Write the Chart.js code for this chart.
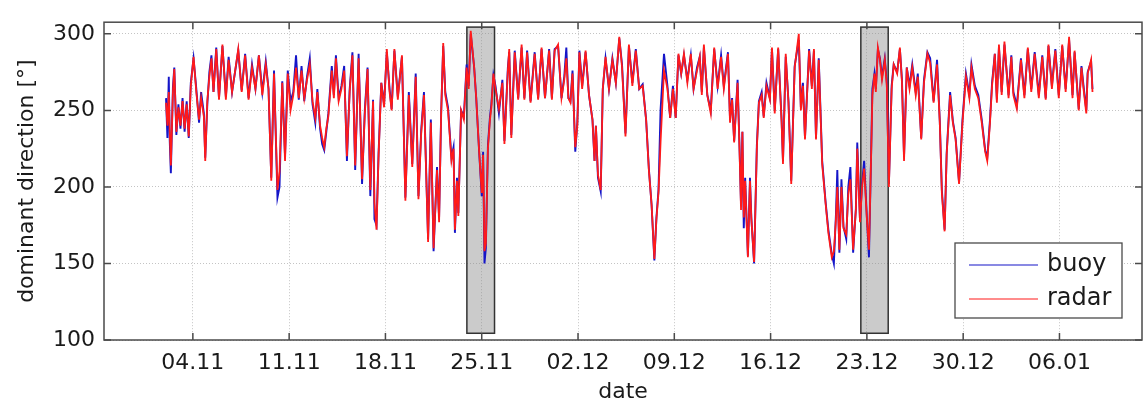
<!DOCTYPE html>
<html>
<head>
<meta charset="utf-8">
<script src="https://cdn.jsdelivr.net/npm/chart.js@4.4.1/dist/chart.umd.min.js"></script>
<style>
  html, body { margin: 0; padding: 0; background: #fff; }
  #wrap { width: 1143px; height: 403px; position: relative; }
</style>
</head>
<body>
<div id="wrap"><canvas id="dirChart"></canvas></div>
<script>
// time axis: days since 01.11 (so 04.11 = 3)
const days = [
  1.05,1.15,1.25,1.32,1.4,1.55,1.65,1.8,1.95,2.1,2.25,2.4,2.55,2.7,2.85,3.05,3.25,3.45,3.6,3.8,3.9,
  4.05,4.2,4.35,4.5,4.7,4.9,5.15,5.4,5.6,5.85,6.3,6.55,6.8,7.05,7.3,7.55,7.8,8.05,8.3,8.5,8.7,8.9,
  9.15,9.3,9.5,9.7,9.9,10.1,10.3,10.5,10.7,10.9,11.1,11.3,11.5,11.7,11.9,12.05,12.25,12.4,12.55,12.7,
  12.85,13.1,13.25,13.4,13.6,13.8,14.0,14.2,14.4,14.6,14.8,15.05,15.3,15.5,15.7,15.9,16.1,16.2,16.35,
  16.5,16.7,16.9,17.1,17.3,17.45,17.65,17.9,18.2,18.45,18.7,18.95,19.2,19.4,19.6,19.8,20.1,20.3,20.5,
  20.75,20.9,21.05,21.2,21.35,21.55,21.8,21.95,22.05,22.2,22.3,22.5,22.7,22.9,23.05,23.2,23.45,23.6,
  23.8,24.0,24.1,24.2,24.3,24.45,24.6,24.7,24.85,25.0,25.25,25.5,25.65,25.9,26.0,26.15,26.4,26.65,
  26.9,27.1,27.3,27.55,27.85,28.1,28.35,28.6,28.9,29.1,29.3,29.55,29.8,30.0,30.15,30.3,30.45,30.6,
  30.8,30.95,31.1,31.3,31.55,31.8,32.05,32.2,32.3,32.45,32.65,32.8,33.0,33.25,33.5,33.75,34.0,34.2,
  34.45,34.7,34.95,35.2,35.45,35.7,35.95,36.15,36.35,36.55,36.7,36.85,37.0,37.25,37.5,37.7,37.9,38.1,
  38.3,38.5,38.7,38.95,39.2,39.4,39.65,39.85,40.0,40.15,40.4,40.65,40.9,41.15,41.4,41.6,41.9,42.05,
  42.2,42.35,42.6,42.75,42.85,42.95,43.05,43.15,43.35,43.5,43.6,43.8,44.0,44.15,44.35,44.5,44.7,44.95,
  45.1,45.3,45.55,45.8,45.9,46.1,46.3,46.5,46.75,47.05,47.2,47.35,47.5,47.8,48.0,48.15,48.3,48.5,
  48.75,49.0,49.2,49.45,49.6,49.75,49.85,50.0,50.15,50.3,50.5,50.65,50.8,51.0,51.2,51.3,51.5,51.65,
  51.8,52.0,52.15,52.3,52.4,52.55,52.65,52.8,52.95,53.1,53.3,53.45,53.6,53.8,53.95,54.2,54.4,54.55,
  54.7,54.9,55.1,55.3,55.55,55.7,55.95,56.15,56.4,56.6,56.85,57.1,57.3,57.45,57.65,57.8,58.05,58.25,
  58.45,58.7,58.95,59.2,59.45,59.6,59.85,60.1,60.35,60.6,60.75,60.95,61.1,61.3,61.45,61.6,61.8,62.0,
  62.3,62.5,62.65,62.9,63.2,63.45,63.7,63.95,64.2,64.5,64.75,65.0,65.2,65.45,65.7,65.95,66.2,66.45,
  66.7,66.95,67.1,67.4,67.6,67.75,67.95,68.05,68.3,68.4
];

const buoyDir = [
  258,232,272,230,209,265,278,234,254,238,258,236,256,232,268,284,264,242,262,248,219,
  254,275,286,262,291,258,292,259,285,262,289,263,287,258,280,264,286,262,282,264,206,276,
  193,200,269,220,276,256,262,286,257,279,256,272,284,254,242,264,238,228,224,236,
  248,279,260,286,258,266,279,217,264,288,211,287,202,250,278,194,257,179,175,
  222,268,254,288,264,251,289,259,285,193,262,215,274,194,237,262,166,244,158,
  213,180,248,292,262,252,219,226,170,206,183,250,246,280,266,300,278,258,
  225,194,223,150,160,227,246,254,273,266,248,270,230,278,288,234,289,258,
  291,258,289,256,288,258,290,258,290,258,290,292,258,272,291,258,256,276,
  223,242,289,266,288,260,244,217,240,206,197,264,284,264,284,268,297,280,
  235,292,268,290,264,267,244,212,188,152,180,198,250,287,266,245,266,245,
  286,274,286,270,286,264,278,285,262,291,260,250,290,266,286,266,288,244,
  258,230,270,223,188,236,173,206,155,206,180,150,227,256,262,246,268,258,
  290,250,290,244,217,285,256,204,279,296,252,268,232,290,266,289,232,284,
  217,190,172,156,150,182,211,157,205,174,166,200,213,157,186,229,178,202,
  217,180,154,218,264,274,264,290,284,272,284,268,202,266,280,275,290,270,
  220,278,266,280,262,274,232,270,288,284,256,283,243,198,172,222,262,243,
  232,203,244,274,260,280,266,260,244,224,219,244,268,287,257,291,262,293,
  260,286,262,253,284,260,290,264,288,260,286,258,292,266,290,260,292,264,
  296,260,288,251,279,266,250,275,282,264
];

const radarDir = [
  255,240,262,236,214,262,277,236,252,240,256,238,254,233,266,285,262,244,258,246,217,
  256,272,284,262,290,257,293,257,283,262,290,262,286,257,278,264,286,260,280,264,204,274,
  198,210,268,217,274,250,260,278,258,276,258,270,280,256,245,262,240,232,226,238,
  246,276,258,284,256,264,276,220,262,286,214,284,205,248,277,198,256,190,172,
  220,268,252,290,262,250,290,257,286,191,260,213,272,192,235,260,164,242,160,
  211,177,248,294,260,250,217,225,172,204,181,250,244,278,264,302,278,258,
  225,196,221,158,163,225,244,252,274,264,251,268,228,276,290,232,288,257,
  293,257,288,255,287,257,291,258,289,257,289,293,258,270,284,258,255,274,
  226,240,288,264,289,260,244,217,240,208,198,264,285,264,283,268,298,278,
  233,293,266,289,264,266,244,211,188,153,179,196,229,276,264,245,264,245,
  287,274,287,268,287,264,276,285,260,293,260,248,291,264,285,264,287,242,
  257,229,268,221,185,236,180,204,154,204,179,151,225,255,260,245,266,257,
  291,248,291,242,215,287,255,202,278,300,250,266,231,289,264,290,231,283,
  215,189,170,154,158,179,200,159,200,173,169,195,205,159,185,225,177,200,
  212,179,159,217,260,274,262,291,283,270,283,266,200,264,280,274,291,268,
  217,278,264,278,260,272,231,268,287,281,255,280,242,196,171,221,260,242,
  231,202,242,272,258,278,264,258,242,223,217,242,266,287,255,293,260,295,
  258,285,260,251,283,258,291,262,287,258,285,257,293,264,289,258,293,262,
  298,258,289,250,278,264,248,274,283,262
];

const xTickDays = [3, 10, 17, 24, 31, 38, 45, 52, 59, 66];
const xTickLabels = ['04.11', '11.11', '18.11', '25.11', '02.12', '09.12', '16.12', '23.12', '30.12', '06.01'];
const yTicks = [100, 150, 200, 250, 300];

// grey marked periods (days)
const markedSpans = [[22.92, 24.93], [51.56, 53.55]];
const markedLow = 104.4;
const markedHigh = 304.4;

const FONT = 'DejaVu Sans';
const FRAME = '#4a4a4a';

function toPoints(vals){
  return days.map((d, i) => ({x: d, y: vals[i]}));
}

// grey boxes behind the lines
const spanPlugin = {
  id: 'spans',
  beforeDatasetsDraw(chart){
    const ctx = chart.ctx;
    const xs = chart.scales.x, ys = chart.scales.y;
    ctx.save();
    for (const s of markedSpans){
      const x1 = xs.getPixelForValue(s[0]);
      const x2 = xs.getPixelForValue(s[1]);
      const y1 = ys.getPixelForValue(markedHigh);
      const y2 = ys.getPixelForValue(markedLow);
      ctx.fillStyle = 'rgba(140,140,140,0.45)';
      ctx.fillRect(x1, y1, x2 - x1, y2 - y1);
      ctx.strokeStyle = '#333';
      ctx.lineWidth = 1.5;
      ctx.strokeRect(x1, y1, x2 - x1, y2 - y1);
    }
    ctx.restore();
  }
};

// matlab style box, inward ticks and legend
const framePlugin = {
  id: 'frame',
  afterDraw(chart){
    const ctx = chart.ctx;
    const a = chart.chartArea;
    const xs = chart.scales.x, ys = chart.scales.y;
    ctx.save();
    ctx.strokeStyle = FRAME;
    ctx.lineWidth = 1.5;
    ctx.strokeRect(a.left, a.top, a.right - a.left, a.bottom - a.top);
    ctx.beginPath();
    const tl = 7;
    for (const d of xTickDays){
      const x = xs.getPixelForValue(d);
      ctx.moveTo(x, a.bottom); ctx.lineTo(x, a.bottom - tl);
      ctx.moveTo(x, a.top); ctx.lineTo(x, a.top + tl);
    }
    for (const v of yTicks){
      const y = ys.getPixelForValue(v);
      ctx.moveTo(a.left, y); ctx.lineTo(a.left + tl, y);
      ctx.moveTo(a.right, y); ctx.lineTo(a.right - tl, y);
    }
    ctx.stroke();

    // legend box
    const lx = 955, ly = 243, lw = 167, lh = 75;
    ctx.fillStyle = '#fff';
    ctx.fillRect(lx, ly, lw, lh);
    ctx.strokeStyle = FRAME;
    ctx.lineWidth = 1.3;
    ctx.strokeRect(lx, ly, lw, lh);
    const rows = [265, 299];
    chart.data.datasets.forEach((ds, i) => {
      ctx.strokeStyle = ds.borderColor;
      ctx.lineWidth = 1.2;
      ctx.beginPath();
      ctx.moveTo(lx + 14, rows[i]);
      ctx.lineTo(lx + 83, rows[i]);
      ctx.stroke();
      ctx.fillStyle = '#1a1a1a';
      ctx.font = '24px "' + FONT + '"';
      ctx.textBaseline = 'middle';
      ctx.textAlign = 'left';
      ctx.fillText(ds.label, lx + 92, rows[i]);
    });
    ctx.restore();
  }
};

const ctx = document.getElementById('dirChart').getContext('2d');
const chart = new Chart(ctx, {
  type: 'line',
  data: {
    datasets: [
      {
        label: 'buoy',
        data: toPoints(buoyDir),
        borderColor: '#1515c8',
        borderWidth: 1.9,
        pointRadius: 0,
        tension: 0,
        order: 2
      },
      {
        label: 'radar',
        data: toPoints(radarDir),
        borderColor: '#ff1a1a',
        borderWidth: 1.8,
        pointRadius: 0,
        tension: 0,
        order: 1
      }
    ]
  },
  options: {
    responsive: true,
    maintainAspectRatio: false,
    animation: false,
    layout: { padding: { top: 12, right: 1, left: 0, bottom: 0 } },
    plugins: {
      legend: { display: false },
      tooltip: { enabled: false }
    },
    scales: {
      x: {
        type: 'linear',
        min: -3.46,
        max: 72.0,
        afterBuildTicks: (scale) => { scale.ticks = xTickDays.map(v => ({value: v})); },
        afterFit: (scale) => { scale.height = 63; },
        ticks: {
          padding: 10,
          color: '#1a1a1a',
          font: { family: FONT, size: 22 },
          maxRotation: 0,
          autoSkip: false,
          callback: (v) => xTickLabels[xTickDays.indexOf(v)]
        },
        grid: { color: '#c4c4c4', lineWidth: 1, drawTicks: false },
        border: { display: false, dash: [1, 2] },
        title: {
          display: true,
          text: 'date',
          color: '#1a1a1a',
          font: { family: FONT, size: 22 },
          padding: { top: 0, bottom: -2 }
        }
      },
      y: {
        min: 100,
        max: 307.6,
        afterBuildTicks: (scale) => { scale.ticks = yTicks.map(v => ({value: v})); },
        afterFit: (scale) => { scale.width = 104; },
        ticks: {
          padding: 9,
          color: '#1a1a1a',
          font: { family: FONT, size: 22 }
        },
        grid: { color: '#c4c4c4', lineWidth: 1, drawTicks: false },
        border: { display: false, dash: [1, 2] },
        title: {
          display: true,
          text: 'dominant direction [°]',
          color: '#1a1a1a',
          font: { family: FONT, size: 22 },
          padding: { top: 14, bottom: 0 }
        }
      }
    }
  },
  plugins: [spanPlugin, framePlugin]
});
</script>
</body>
</html>
